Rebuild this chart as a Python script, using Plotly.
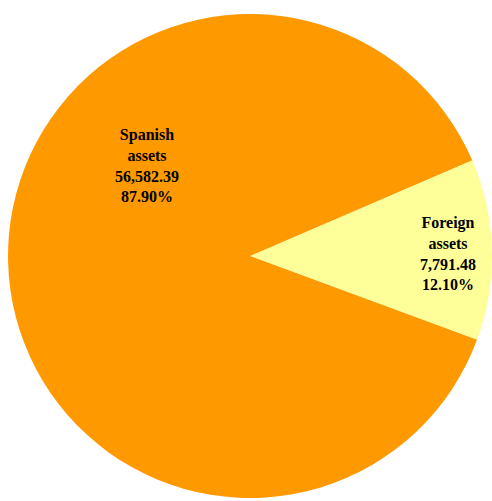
import plotly.graph_objs as go

ORANGE = '#FF9900'
YELLOW = '#FFFF99'

labels = ['Foreign assets', 'Spanish assets']
values = [7791.48, 56582.39]
label_lines = [['Foreign', 'assets'], ['Spanish', 'assets']]
colors = [YELLOW, ORANGE]

# annotation spots (paper coords)
text_pos = [(0.9096, 0.495), (0.2988, 0.6687)]

total = sum(values)

fig = go.Figure()
fig.add_trace(go.Pie(
    labels=labels,
    values=values,
    sort=False,
    direction='clockwise',
    rotation=66.7,
    marker=dict(colors=colors, line=dict(width=0)),
    textinfo='none',
    hoverinfo='label+value+percent',
    showlegend=False,
    domain=dict(x=[0.0163, 1.0], y=[0.006, 0.972]),
))

for lines, v, (px, py) in zip(label_lines, values, text_pos):
    txt = '<br>'.join(lines + ['{:,.2f}'.format(v), '{:.2f}%'.format(100 * v / total)])
    fig.add_annotation(
        x=px, y=py, xref='paper', yref='paper',
        xanchor='center', yanchor='middle',
        text='<b>' + txt + '</b>', showarrow=False,
        font=dict(family='Liberation Serif, Times New Roman, serif', size=16, color='black'),
        align='center',
    )

fig.update_layout(
    width=492, height=501,
    margin=dict(l=0, r=0, t=0, b=0),
    paper_bgcolor='white',
    plot_bgcolor='white',
)

# drop the default 8px body margin so the figure sits at the window corner
fig.write_html("out.html",
               config={'displayModeBar': False},
               post_script="document.body.style.margin = '0'; document.body.style.overflow = 'hidden';")
